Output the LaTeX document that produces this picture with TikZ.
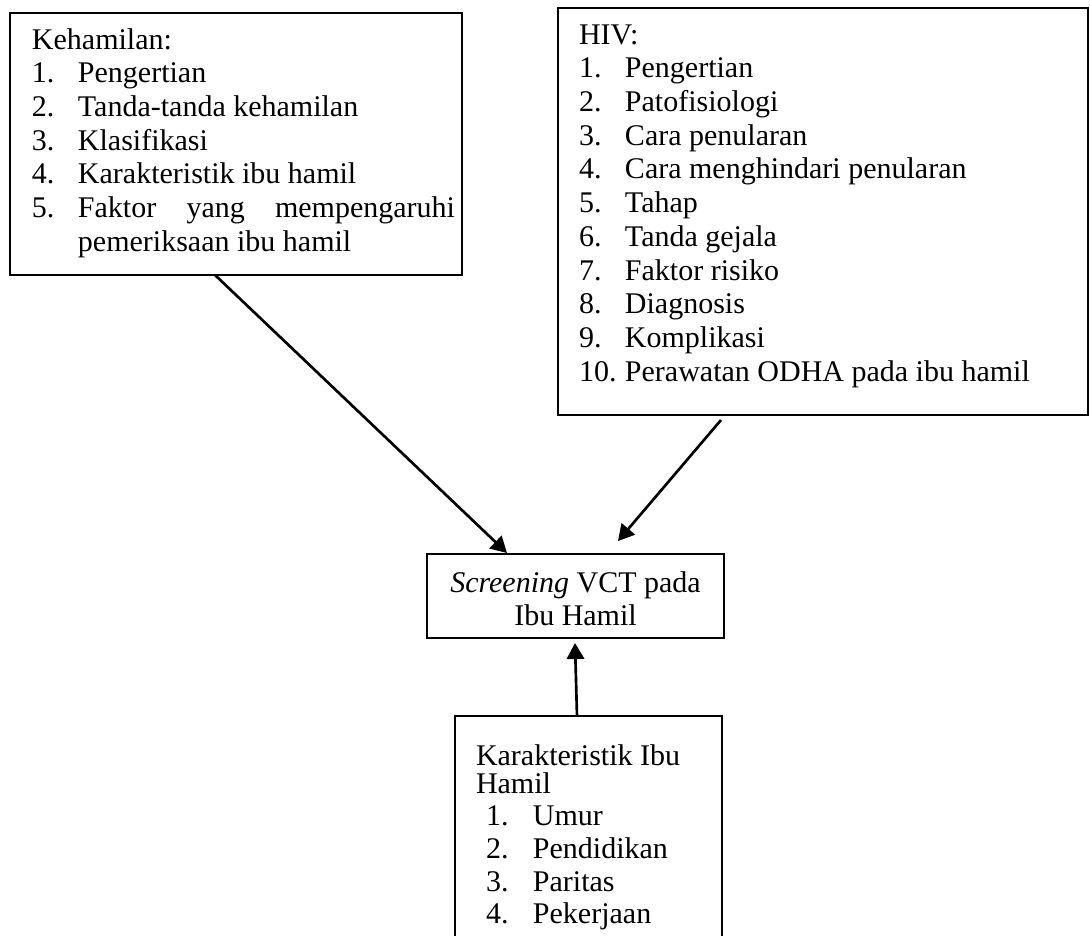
\documentclass[tikz,border=0pt]{standalone}
\usepackage{fontspec}
\setmainfont{Liberation Serif}
\usetikzlibrary{arrows.meta,calc}
\newdimen\pxu \pxu=0.75pt
\tikzset{
  box/.style={draw, line width=1.4pt, inner sep=0pt, outer sep=0pt, anchor=north west},
  conn/.style={line width=2pt, -{Triangle[length=12pt,width=13pt]}},
}
\newcommand\numw[2]{\makebox[#1][l]{#2}}
\begin{document}
\begin{tikzpicture}[x=0.75pt,y=-0.75pt,font=\fontsize{22.5}{25.3}\selectfont]
\useasboundingbox (0,0) rectangle (1090,936);
\clip (0,0) rectangle (1090,936);
\fill[white] (0,0) rectangle (1090,936);

\node[box] (keh) at (10,13) {\parbox[c][262\pxu][t]{452\pxu}{\leftskip=22\pxu
\rule{0pt}{36\pxu}Kehamilan:\\
\numw{46\pxu}{1.}Pengertian\\
\numw{46\pxu}{2.}Tanda-tanda kehamilan\\
\numw{46\pxu}{3.}Klasifikasi\\
\numw{46\pxu}{4.}Karakteristik ibu hamil\\
\numw{46\pxu}{5.}\parbox[t]{377\pxu}{\tolerance=10000 \hbadness=10000 \hyphenpenalty=10000 Faktor yang mempengaruhi pemeriksaan ibu hamil}}};

\node[box] (hiv) at (558,8) {\parbox[c][407\pxu][t]{530\pxu}{\leftskip=21\pxu
\rule{0pt}{36\pxu}HIV:\\
\numw{46\pxu}{1.}Pengertian\\
\numw{46\pxu}{2.}Patofisiologi\\
\numw{46\pxu}{3.}Cara penularan\\
\numw{46\pxu}{4.}Cara menghindari penularan\\
\numw{46\pxu}{5.}Tahap\\
\numw{46\pxu}{6.}Tanda gejala\\
\numw{46\pxu}{7.}Faktor risiko\\
\numw{46\pxu}{8.}Diagnosis\\
\numw{46\pxu}{9.}Komplikasi\\
\numw{46\pxu}{10.}Perawatan ODHA pada ibu hamil}};

\node[box] (scr) at (427,554) {\parbox[c][84\pxu][t]{297\pxu}{\centering
\rule{0pt}{38\pxu}\textit{Screening} VCT pada\\
Ibu Hamil}};

\node[box] (kar) at (455,716) {\parbox[c][260\pxu][t]{267\pxu}{\leftskip=21\pxu
\baselineskip=24.5pt
\rule{0pt}{49\pxu}Karakteristik Ibu\\[-4.5\pxu]
Hamil\\
\hspace*{10\pxu}\numw{47\pxu}{1.}Umur\\
\hspace*{10\pxu}\numw{47\pxu}{2.}Pendidikan\\
\hspace*{10\pxu}\numw{47\pxu}{3.}Paritas\\
\hspace*{10\pxu}\numw{47\pxu}{4.}Pekerjaan}};

\draw[conn] ($(keh.south west)+(205,0)$) -- ($(scr.north west)+(80,-1)$);
\draw[conn] ($(hiv.south west)+(163,5)$) -- ($(scr.north west)+(191,-13)$);
\draw[conn] ($(kar.north west)+(122,0)$) -- ($(scr.south west)+(148,5)$);
\end{tikzpicture}
\end{document}
